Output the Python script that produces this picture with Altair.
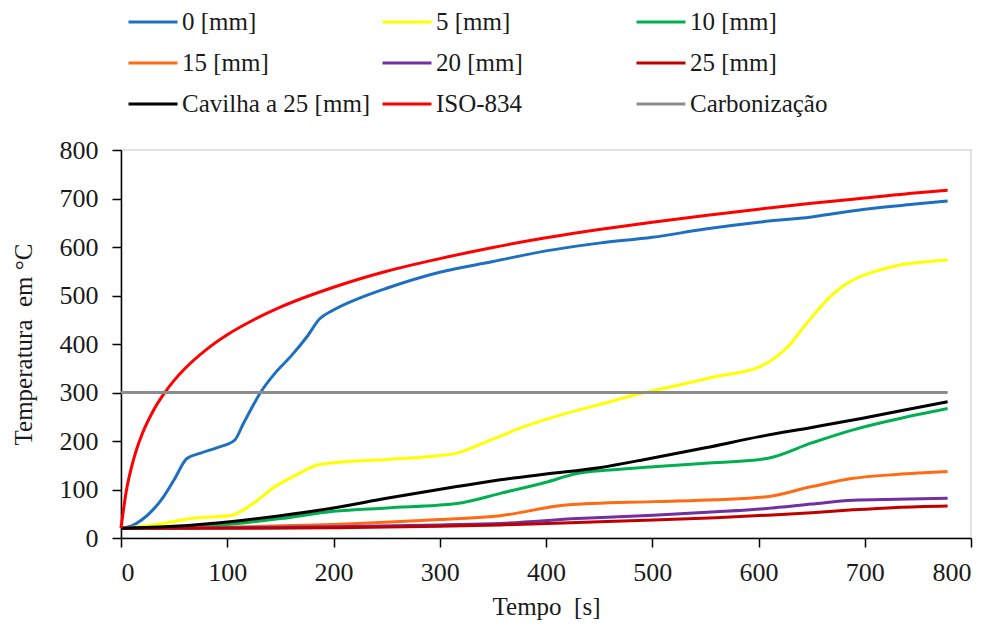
import altair as alt
import pandas as pd

# ---- data ----
series_names = ["0 [mm]", "5 [mm]", "10 [mm]", "15 [mm]", "20 [mm]", "25 [mm]",
                "Cavilha a 25 [mm]", "ISO-834", "Carbonização"]
series_colors = ["#1F6FC0", "#FFFF00", "#00B050", "#FF6A13", "#7030A0", "#C00000",
                 "#000000", "#FF0000", "#8C8C8C"]
# legend is filled column by column, so list the names in that order
legend_order = [0, 3, 6, 1, 4, 7, 2, 5, 8]

t_0 = [0, 10, 20, 30, 40, 50, 62, 75, 90, 107, 115, 123, 131, 145, 160, 175, 187, 200,
       225, 250, 300, 350, 400, 450, 500, 550, 600, 650, 700, 750, 778]
T_0 = [20, 25, 38, 58, 85, 120, 164, 175, 186, 202, 235, 268, 299, 340, 375, 415, 452, 470,
       495, 515, 548, 570, 592, 608, 620, 637, 651, 662, 678, 689, 695]

t_5 = [0, 20, 40, 65, 90, 105, 112, 125, 143, 165, 184, 200, 250, 300, 316, 340, 357, 380,
       419, 450, 491, 520, 560, 601, 617, 630, 640, 652, 665, 678, 689, 710, 733, 760, 778]
T_5 = [20, 24, 30, 40, 44, 47, 54, 72, 103, 130, 150, 155, 162, 170, 175, 195, 210, 230,
       257, 275, 299, 313, 333, 353, 374, 400, 428, 460, 492, 517, 532, 550, 563, 570, 573]

t_10 = [0, 50, 100, 150, 200, 250, 316, 357, 400, 429, 460, 501, 550, 608, 650, 689, 730, 778]
T_10 = [20, 22, 28, 40, 55, 62, 71, 92, 115, 133, 140, 147, 154, 164, 196, 223, 245, 267]

t_15 = [0, 100, 200, 300, 357, 419, 501, 560, 608, 650, 689, 730, 778]
T_15 = [20, 22, 28, 38, 46, 68, 75, 79, 85, 106, 123, 131, 137]

t_20 = [0, 100, 200, 300, 357, 430, 501, 560, 608, 650, 689, 730, 778]
T_20 = [20, 21, 23, 27, 30, 40, 47, 54, 61, 70, 78, 80, 82]

t_25 = [0, 100, 200, 300, 357, 430, 501, 560, 608, 650, 689, 730, 778]
T_25 = [20, 20, 21, 24, 27, 32, 37, 42, 47, 52, 58, 63, 66]

t_cav = [0, 50, 105, 150, 200, 250, 316, 357, 400, 450, 498, 550, 601, 650, 698, 740, 778]
T_cav = [20, 24, 34, 46, 62, 82, 106, 120, 132, 145, 164, 186, 209, 228, 247, 265, 281]

t_iso = [0, 5, 10, 15, 20, 30, 40, 50, 60, 80, 100, 125, 150, 200, 250, 300, 350, 400,
         450, 500, 550, 600, 650, 700, 750, 778]
T_iso = [20, 97, 147, 185, 215, 261, 296, 325, 349, 388, 419, 450, 476, 517, 550, 576, 599, 619,
         636, 651, 665, 678, 690, 701, 712, 717]

t_carb = [0, 778]
T_carb = [300, 300]

all_t = [t_0, t_5, t_10, t_15, t_20, t_25, t_cav, t_iso, t_carb]
all_T = [T_0, T_5, T_10, T_15, T_20, T_25, T_cav, T_iso, T_carb]

rows = []
for order, (name, ts, Ts) in enumerate(zip(series_names, all_t, all_T)):
    for t, T in zip(ts, Ts):
        rows.append({"serie": name, "t": t, "T": T, "ord": order})
df = pd.DataFrame(rows)

dom = [series_names[i] for i in legend_order]
rng = [series_colors[i] for i in legend_order]

FONT = "Liberation Serif, Times New Roman, serif"
ticks = [0, 100, 200, 300, 400, 500, 600, 700, 800]

chart = alt.Chart(df).mark_line(strokeWidth=3, interpolate="monotone").encode(
    x=alt.X("t:Q", scale=alt.Scale(domain=[0, 800], nice=False),
            axis=alt.Axis(values=ticks, title="Tempo\u00a0 [s]", format="d")),
    y=alt.Y("T:Q", scale=alt.Scale(domain=[0, 800], nice=False),
            axis=alt.Axis(values=ticks, title="Temperatura\u00a0 em °C", format="d")),
    color=alt.Color("serie:N",
                    scale=alt.Scale(domain=dom, range=rng),
                    sort=dom,
                    legend=alt.Legend(
                        title=None, orient="none", legendX=6, legendY=-154,
                        columns=3, gridAlign="all", columnPadding=5, rowPadding=2,
                        symbolType="stroke", symbolStrokeWidth=3, symbolSize=2400,
                        labelFont=FONT, labelFontSize=25, labelColor="#1a1a1a",
                        labelOffset=3, labelLimit=400)),
    detail="serie:N",
    order="ord:Q",
).properties(
    width=850, height=388,
    autosize=alt.AutoSizeParams(type="none"),
    padding={"left": 113, "top": 142, "right": 17, "bottom": 84},
).configure_view(
    stroke="#D9D9D9", strokeWidth=1.5
).configure_axis(
    grid=False, domainColor="#000000", domainWidth=1.5, tickColor="#000000",
    tickWidth=1.5, tickSize=9, labelFont=FONT, labelFontSize=26,
    labelColor="#1a1a1a", titleFont=FONT, titleFontSize=25, titleFontWeight="normal",
    titleColor="#1a1a1a"
).configure_axisX(
    labelPadding=12, titlePadding=9
).configure_axisY(
    labelPadding=14, titlePadding=23
)

chart.save("out.html", embed_options={"renderer": "svg", "actions": False})
